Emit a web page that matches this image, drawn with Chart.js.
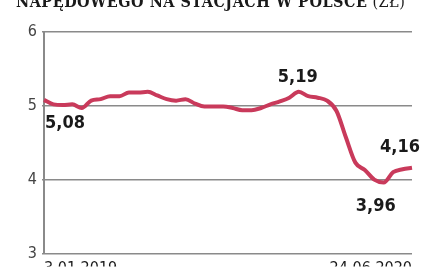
<!DOCTYPE html>
<html>
<head>
<meta charset="utf-8">
<script src="https://cdn.jsdelivr.net/npm/chart.js"></script>
<style>
  html, body { margin: 0; padding: 0; background: #fff; overflow: hidden; }
  #wrap { position: relative; width: 439px; height: 268px; }
  #title {
    position: absolute; left: 16px; top: -8px; white-space: nowrap;
    font-family: "DejaVu Serif Condensed", "DejaVu Serif", serif; font-size: 16px; line-height: 20px;
    color: #1a1a1a; letter-spacing: 0.5px;
  }
  #title b { font-weight: bold; }
</style>
</head>
<body>
<div id="wrap">
  <div id="title"><b>NAPĘDOWEGO NA STACJACH W POLSCE</b> (ZŁ)</div>
  <canvas id="chart" width="439" height="268"></canvas>
</div>
<script>
// Cena oleju napędowego, co ok. dwa tygodnie
const dateLabels = ['3.01.2019', '24.06.2020'];
const prices = [
  5.08, 5.02, 5.01, 5.02, 4.97, 5.07, 5.09, 5.13, 5.13, 5.18,
  5.18, 5.19, 5.14, 5.09, 5.07, 5.09, 5.03, 4.99, 4.99, 4.99,
  4.97, 4.94, 4.94, 4.97, 5.02, 5.06, 5.11, 5.19, 5.13, 5.11,
  5.07, 4.93, 4.57, 4.23, 4.13, 4.00, 3.96, 4.10, 4.14, 4.16
];
const yTicks = [3, 4, 5, 6];
// podpisy wartości: indeks punktu i tekst
const callouts = [
  { index: 0, text: '5,08', dx: 1, dy: 14, align: 'left', base: 'top' },
  { index: 27, text: '5,19', dx: -1, dy: -5, align: 'center', base: 'bottom' },
  { index: 36, text: '3,96', dx: -8, dy: 15, align: 'center', base: 'top' },
  { index: 39, text: '4,16', dx: 8, dy: -11, align: 'right', base: 'bottom' }
];

const labels = prices.map((v, i) => i);
const lineColor = '#c93a5b';

const calloutPlugin = {
  id: 'callouts',
  afterDatasetsDraw(chart) {
    const ctx = chart.ctx;
    const x = chart.scales.x, y = chart.scales.y;
    ctx.save();
    ctx.font = 'bold 18px "DejaVu Sans Condensed", "DejaVu Sans", sans-serif';
    ctx.fillStyle = '#1a1a1a';
    callouts.forEach(c => {
      ctx.textAlign = c.align;
      ctx.textBaseline = c.base;
      ctx.fillText(c.text, x.getPixelForValue(c.index) + c.dx, y.getPixelForValue(prices[c.index]) + c.dy);
    });
    ctx.restore();
  }
};

new Chart(document.getElementById('chart'), {
  type: 'line',
  data: {
    labels: labels,
    datasets: [{
      data: prices,
      borderColor: lineColor,
      borderWidth: 4,
      pointRadius: 0,
      cubicInterpolationMode: 'monotone',
      fill: false
    }]
  },
  options: {
    responsive: false,
    animation: false,
    layout: { padding: { top: 32, right: 27, left: 0, bottom: 0 } },
    plugins: { legend: { display: false }, tooltip: { enabled: false } },
    scales: {
      x: {
        type: 'category',
        offset: false,
        grid: { display: false, drawTicks: false },
        border: { display: false },
        afterFit: s => { s.height = 13; },
        ticks: {
          autoSkip: false,
          maxRotation: 0,
          align: 'inner',
          padding: 6,
          color: '#1a1a1a',
          font: { family: '"DejaVu Sans Condensed", "DejaVu Sans", sans-serif', size: 16 },
          callback: (v, i) => i === 0 ? dateLabels[0] : (i === prices.length - 1 ? dateLabels[1] : '')
        }
      },
      y: {
        min: 3,
        max: 6,
        afterFit: s => { s.width = 44; },
        afterBuildTicks: s => { s.ticks = yTicks.map(v => ({ value: v })); },
        grid: { color: '#8a8a8a', lineWidth: 1.5, drawTicks: true, tickLength: 2 },
        border: { display: true, color: '#8a8a8a', width: 2 },
        ticks: {
          padding: 5,
          color: '#444',
          font: { family: '"Liberation Sans Narrow", "DejaVu Sans Condensed", sans-serif', size: 16 }
        }
      }
    }
  },
  plugins: [calloutPlugin]
});
</script>
</body>
</html>
